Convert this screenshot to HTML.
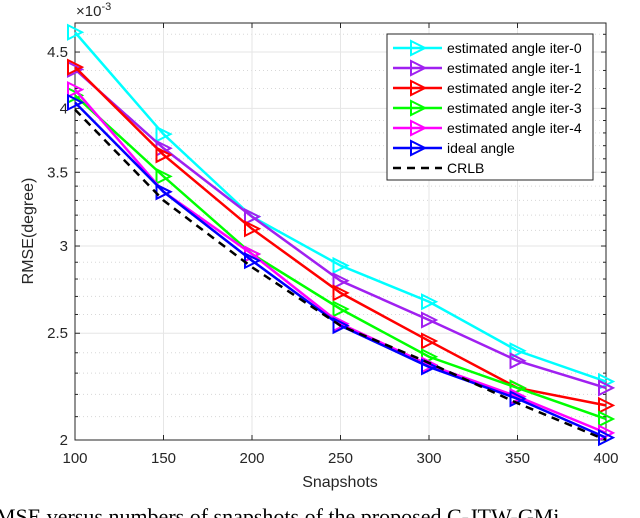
<!DOCTYPE html>
<html><head><meta charset="utf-8"><style>
html,body{margin:0;padding:0;background:#fff;width:640px;height:518px;overflow:hidden}
svg{display:block;font-family:"Liberation Sans",sans-serif}
</style></head><body>
<svg id="chart" width="640" height="518" viewBox="0 0 640 518" xmlns="http://www.w3.org/2000/svg">
<g id="grid"></g>
<g id="axes"></g>
<g id="series"></g>
<g id="legend"></g>
<text x="-4" y="524" font-family="Liberation Serif, serif" font-size="22" fill="#000">MSE versus numbers of snapshots of the proposed C-JTW-GMi</text>
</svg>
<script>
const categories = [100,150,200,250,300,350,400];
const iter0 = [4.69,3.79,3.19,2.88,2.67,2.41,2.26];
const iter1 = [4.34,3.68,3.19,2.79,2.57,2.36,2.23];
const iter2 = [4.36,3.63,3.11,2.72,2.46,2.23,2.15];
const iter3 = [4.11,3.47,2.95,2.63,2.38,2.23,2.09];
const iter4 = [4.16,3.36,2.95,2.55,2.34,2.19,2.03];
const ideal = [4.05,3.36,2.91,2.54,2.33,2.18,2.01];
const crlb = [3.99,3.30,2.87,2.54,2.35,2.16,2.00];
const yTicks = [2,2.5,3,3.5,4,4.5];
const yTickLabels = ["2","2.5","3","3.5","4","4.5"];
const yMinor = [2.1,2.2,2.3,2.4,2.6,2.7,2.8,2.9,3.1,3.2,3.3,3.4,3.6,3.7,3.8,3.9,4.17,4.33,4.67];
const seriesNames = ["estimated angle iter-0","estimated angle iter-1","estimated angle iter-2","estimated angle iter-3","estimated angle iter-4","ideal angle","CRLB"];
const seriesColors = ["#00ffff","#a020f0","#ff0000","#00ff00","#ff00ff","#0000ff","#000000"];

const L=75,R=606,T=23,B=440;
const X=v=>L+(v-100)/300*(R-L);
const Y=v=>B-(Math.log10(v)-Math.log10(2))*1101.6;
const NS="http://www.w3.org/2000/svg";
function mk(tag,attrs,parent){const e=document.createElementNS(NS,tag);for(const k in attrs)e.setAttribute(k,attrs[k]);parent.appendChild(e);return e;}
const grid=document.getElementById('grid'),axes=document.getElementById('axes'),ser=document.getElementById('series'),leg=document.getElementById('legend');

yMinor.forEach(v=>{const l=mk('line',{x1:L,x2:R,y1:Y(v),y2:Y(v),stroke:'#d8d8d8','stroke-width':1,'stroke-dasharray':'1,3'},grid);

});
yTicks.forEach(v=>{const l=mk('line',{x1:L,x2:R,y1:Y(v),y2:Y(v),stroke:'#e6e6e6','stroke-width':1},grid);

});
categories.forEach(c=>{const l=mk('line',{x1:X(c),x2:X(c),y1:T,y2:B,stroke:'#e6e6e6','stroke-width':1},grid);

});

const box=mk('rect',{x:L,y:T,width:R-L,height:B-T,fill:'none',stroke:'#262626','stroke-width':1},axes);


categories.forEach(c=>{
 mk('line',{x1:X(c),x2:X(c),y1:B,y2:B-5,stroke:'#262626'},axes);
 mk('line',{x1:X(c),x2:X(c),y1:T,y2:T+5,stroke:'#262626'},axes);
 const t=mk('text',{x:X(c),y:463,'text-anchor':'middle','font-size':15,fill:'#262626'},axes);t.textContent=c;
 
 
});
yTicks.forEach((v,i)=>{
 mk('line',{x1:L,x2:L+5,y1:Y(v),y2:Y(v),stroke:'#262626'},axes);
 mk('line',{x1:R,x2:R-5,y1:Y(v),y2:Y(v),stroke:'#262626'},axes);
 const t=mk('text',{x:L-7,y:Y(v)+5,'text-anchor':'end','font-size':15,fill:'#262626'},axes);t.textContent=yTickLabels[i];
 
 
});
yMinor.forEach(v=>{mk('line',{x1:L,x2:L+3,y1:Y(v),y2:Y(v),stroke:'#262626'},axes);mk('line',{x1:R,x2:R-3,y1:Y(v),y2:Y(v),stroke:'#262626'},axes);});
let t=mk('text',{x:76,y:16,'font-size':15,fill:'#262626'},axes);
t.innerHTML='×10<tspan dy="-6" font-size="11">-3</tspan>';


t=mk('text',{x:340,y:487,'text-anchor':'middle','font-size':16,fill:'#262626'},axes);t.textContent='Snapshots';


t=mk('text',{x:33,y:231,'text-anchor':'middle','font-size':16,fill:'#262626',transform:'rotate(-90 33 231)'},axes);t.textContent='RMSE(degree)';



function tri(x,y,col,parent){const p=mk('path',{d:`M${x-7},${y-7} L${x+7},${y} L${x-7},${y+7} Z`,fill:'none',stroke:col,'stroke-width':2},parent);return p;}
const all=[iter0,iter1,iter2,iter3,iter4,ideal,crlb];
all.forEach((vals,si)=>{
 const g=mk('g',{},ser);
 
 
 const pts=vals.map((v,i)=>X(categories[i])+','+Y(v)).join(' ');
 const pl=mk('polyline',{points:pts,fill:'none',stroke:seriesColors[si],'stroke-width':2.5},g);
 if(si===6)pl.setAttribute('stroke-dasharray','8,6');
 
 
 if(si<6)vals.forEach((v,i)=>{const m=tri(X(categories[i]),Y(v),seriesColors[si],g);
  
  });
});
const lb=mk('rect',{x:387,y:34,width:206,height:146,fill:'#fff',stroke:'#262626','stroke-width':1},leg);


seriesNames.forEach((n,i)=>{
 const y=48+i*20;
 const g=mk('g',{},leg);
 
 
 const l=mk('line',{x1:393,x2:442,y1:y,y2:y,stroke:seriesColors[i],'stroke-width':2.5},g);
 if(i===6)l.setAttribute('stroke-dasharray','8,6');
 if(i<6)tri(418,y,seriesColors[i],g);
 const tx=mk('text',{x:447,y:y+5,'font-size':14,fill:'#000'},g);tx.textContent=n;
});
</script>
</body></html>
